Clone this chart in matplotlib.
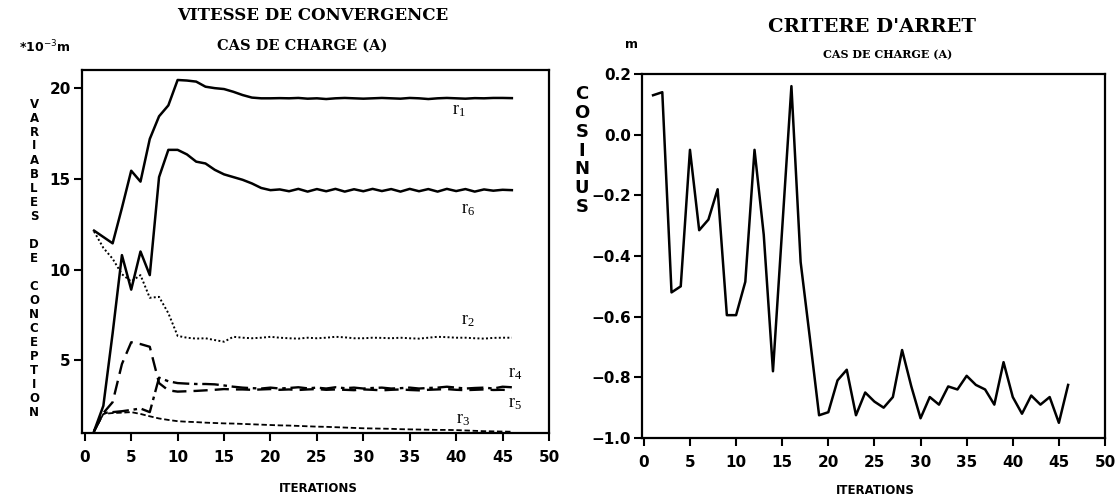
import numpy as np
import matplotlib
matplotlib.use('Agg')
import matplotlib.pyplot as plt

W, H = 1116, 497

# iterations
iters = np.arange(1, 47)

# design variables (*1e-3 m)
r1 = [12.15, 11.8, 11.45, 13.4, 15.45, 14.85, 17.2, 18.45, 19.05, 20.45,
      20.42, 20.36, 20.08, 20.0, 19.95, 19.8, 19.62, 19.48, 19.44, 19.44,
      19.45, 19.44, 19.46, 19.42, 19.44, 19.40, 19.44, 19.46, 19.44, 19.42,
      19.44, 19.46, 19.44, 19.42, 19.46, 19.44, 19.40, 19.44, 19.46, 19.44,
      19.42, 19.45, 19.44, 19.46, 19.46, 19.45]
r6 = [1.1, 2.5, 6.5, 10.8, 8.9, 11.0, 9.7, 15.1, 16.6, 16.6,
      16.35, 15.95, 15.85, 15.5, 15.25, 15.1, 14.95, 14.75, 14.5, 14.38,
      14.42, 14.32, 14.45, 14.3, 14.44, 14.32, 14.45, 14.3, 14.43, 14.32,
      14.45, 14.33, 14.44, 14.3, 14.45, 14.32, 14.44, 14.3, 14.45, 14.33,
      14.44, 14.3, 14.42, 14.35, 14.4, 14.38]
r2 = [12.1, 11.2, 10.6, 9.75, 9.35, 9.7, 8.45, 8.5, 7.6, 6.35,
      6.25, 6.2, 6.22, 6.12, 6.03, 6.3, 6.25, 6.22, 6.25, 6.3,
      6.25, 6.22, 6.2, 6.25, 6.22, 6.25, 6.3, 6.27, 6.22, 6.22,
      6.25, 6.24, 6.22, 6.25, 6.22, 6.2, 6.25, 6.3, 6.28, 6.25,
      6.25, 6.22, 6.2, 6.24, 6.25, 6.25]
r3 = [1.1, 2.05, 2.1, 2.12, 2.15, 2.05, 1.92, 1.8, 1.72, 1.65,
      1.62, 1.6, 1.57, 1.55, 1.53, 1.52, 1.5, 1.48, 1.46, 1.44,
      1.42, 1.41, 1.39, 1.37, 1.35, 1.34, 1.32, 1.3, 1.28, 1.26,
      1.25, 1.24, 1.23, 1.21, 1.2, 1.19, 1.18, 1.17, 1.17, 1.16,
      1.14, 1.12, 1.1, 1.09, 1.08, 1.07]
r4 = [1.1, 2.1, 2.15, 2.2, 2.27, 2.35, 2.15, 4.05, 3.85, 3.75,
      3.72, 3.7, 3.7, 3.68, 3.62, 3.55, 3.5, 3.47, 3.45, 3.5,
      3.45, 3.48, 3.52, 3.46, 3.5, 3.45, 3.52, 3.47, 3.5, 3.45,
      3.48, 3.5, 3.45, 3.47, 3.5, 3.45, 3.48, 3.5, 3.55, 3.5,
      3.45, 3.48, 3.5, 3.45, 3.55, 3.52]
r5 = [1.1, 2.1, 2.7, 4.8, 6.0, 5.9, 5.75, 3.75, 3.35, 3.28,
      3.3, 3.32, 3.35, 3.38, 3.42, 3.4, 3.4, 3.38, 3.4, 3.42,
      3.38, 3.4, 3.37, 3.4, 3.42, 3.38, 3.4, 3.38, 3.36, 3.4,
      3.38, 3.35, 3.38, 3.4, 3.37, 3.35, 3.38, 3.4, 3.42, 3.38,
      3.36, 3.38, 3.4, 3.37, 3.38, 3.35]

# stopping criterion (cosine), right plot
cosinus = [0.13, 0.14, -0.52, -0.50, -0.05, -0.315, -0.28, -0.18, -0.595, -0.595,
           -0.485, -0.05, -0.33, -0.78, -0.31, 0.16, -0.42, -0.67, -0.925, -0.915,
           -0.81, -0.775, -0.925, -0.85, -0.88, -0.90, -0.865, -0.71, -0.83, -0.935,
           -0.865, -0.89, -0.83, -0.84, -0.795, -0.825, -0.84, -0.89, -0.75, -0.865,
           -0.92, -0.86, -0.89, -0.865, -0.95, -0.825]

xticks = [0, 5, 10, 15, 20, 25, 30, 35, 40, 45, 50]
left_yticks = [5, 10, 15, 20]
right_yticks = [-1.0, -0.8, -0.6, -0.4, -0.2, 0.0, 0.2]

labels = ['r1', 'r2', 'r3', 'r4', 'r5', 'r6']
label_pos = {'r1': (39.5, 18.75), 'r6': (40.5, 13.3), 'r2': (40.5, 7.2),
             'r4': (45.6, 4.3), 'r5': (45.6, 2.6), 'r3': (40.0, 1.75)}


def fig_xy(px, py):
    return px / W, 1 - py / H


def style_axes(ax):
    for s in ax.spines.values():
        s.set_linewidth(1.6)
    ax.tick_params(axis='both', which='major', width=1.5, length=6,
                   direction='out', pad=2)
    ax.tick_params(axis='x', pad=6)
    for lab in ax.get_xticklabels() + ax.get_yticklabels():
        lab.set_fontweight('bold')
        lab.set_fontsize(11)
        lab.set_family('DejaVu Sans')


fig = plt.figure(figsize=(W / 100, H / 100), dpi=100)

# ---- left: convergence of design variables
x0, y0 = fig_xy(82, 433)
x1, y1 = fig_xy(549, 70)
ax1 = fig.add_axes([x0, y0, x1 - x0, y1 - y0])
ax1.plot(iters, r1, color='black', lw=1.8, ls='-')
ax1.plot(iters, r6, color='black', lw=1.8, ls='-')
ax1.plot(iters, r2, color='black', lw=1.4, ls=(0, (1, 1.2)))
ax1.plot(iters, r3, color='black', lw=1.3, ls=(0, (3, 1.5)))
ax1.plot(iters, r4, color='black', lw=1.7, ls=(0, (7, 2, 1.5, 2)))
ax1.plot(iters, r5, color='black', lw=1.7, ls=(0, (6, 3)))
ax1.set_xlim(-0.3, 50)
ax1.set_ylim(1.0, 21.0)
ax1.set_xticks(xticks)
ax1.set_yticks(left_yticks)
style_axes(ax1)

for lab in labels:
    lx, ly = label_pos[lab]
    ax1.text(lx, ly, r'$\mathregular{r_%s}$' % lab[1], family='Liberation Serif',
             fontsize=13, ha='left', va='center')

# ---- right: stopping criterion
x0, y0 = fig_xy(642, 438)
x1, y1 = fig_xy(1105, 74)
ax2 = fig.add_axes([x0, y0, x1 - x0, y1 - y0])
ax2.plot(iters, cosinus, color='black', lw=1.8)
ax2.set_xlim(-0.2, 50)
ax2.set_ylim(-1.0, 0.2)
ax2.set_xticks(xticks)
ax2.set_yticks(right_yticks)
ax2.set_yticklabels([('%.1f' % v).replace('-', '\u2212') for v in right_yticks])
style_axes(ax2)

# ---- titles and labels
serif = 'DejaVu Serif'
fig.text(*fig_xy(313, 15), 'VITESSE DE CONVERGENCE', family=serif,
         fontweight='bold', fontsize=12, ha='center', va='center')
fig.text(*fig_xy(302, 46), 'CAS DE CHARGE (A)', family=serif,
         fontweight='bold', fontsize=10.5, ha='center', va='center')
fig.text(*fig_xy(872, 27), "CRITERE D'ARRET", family=serif,
         fontweight='bold', fontsize=14, ha='center', va='center')
fig.text(*fig_xy(888, 55), 'CAS DE CHARGE (A)', family=serif,
         fontweight='bold', fontsize=8, ha='center', va='center')

fig.text(*fig_xy(70, 47), r'*10$^{-3}$m', fontsize=9, fontweight='bold',
         ha='right', va='center')
fig.text(*fig_xy(632, 45), 'm', fontsize=9, fontweight='bold',
         ha='center', va='center')

fig.text(*fig_xy(318, 488), 'ITERATIONS', fontsize=8.5, fontweight='bold',
         ha='center', va='center')
fig.text(*fig_xy(875, 490), 'ITERATIONS', fontsize=8.5, fontweight='bold',
         ha='center', va='center')

# stacked vertical axis labels
left_label = 'VARIABLES DE CONCEPTION'
y_top, y_bot = 104, 412
step = (y_bot - y_top) / (len(left_label) - 1)
for i, ch in enumerate(left_label):
    if ch != ' ':
        fig.text(*fig_xy(34, y_top + i * step), ch, fontsize=8.5,
                 fontweight='bold', ha='center', va='center')

right_label = 'COSINUS'
y_top, y_bot = 94, 207
step = (y_bot - y_top) / (len(right_label) - 1)
for i, ch in enumerate(right_label):
    fig.text(*fig_xy(582, y_top + i * step), ch, fontsize=13,
             fontweight='bold', ha='center', va='center')

fig.savefig('out.png', dpi=100)
